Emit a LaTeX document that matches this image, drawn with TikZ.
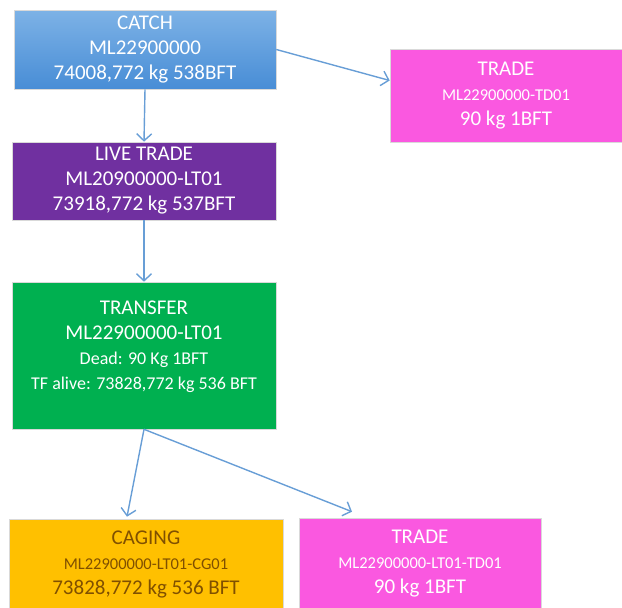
\documentclass[tikz,border=0pt]{standalone}
\usepackage{fontspec}
\setmainfont{Carlito}
\usetikzlibrary{arrows.meta}

\definecolor{catchtop}{RGB}{125,178,230}
\definecolor{catchbot}{RGB}{72,141,214}
\definecolor{livepurple}{RGB}{112,48,160}
\definecolor{transgreen}{RGB}{0,176,80}
\definecolor{tradepink}{RGB}{250,88,224}
\definecolor{cageorange}{RGB}{255,192,0}
\definecolor{cagetext}{RGB}{128,80,0}
\definecolor{arrowblue}{RGB}{104,158,214}

\newcommand{\idtext}[1]{{\fontsize{16.5}{20}\selectfont #1}}
\newcommand{\midtext}[1]{{\fontsize{18}{22}\selectfont #1}}

\begin{document}
\begin{tikzpicture}[x=1pt,y=-1pt,
  every node/.style={font=\fontsize{21}{25}\selectfont, align=center, text=white, inner sep=0pt},
  box/.style={draw=white!85!black, line width=0.6pt},
  flow/.style={draw=arrowblue, line width=1.4pt, -{Straight Barb[length=7pt,width=15pt]}}]
  \useasboundingbox (0,0) rectangle (622,608);

  % Top row: catch and first trade
  \node[box, top color=catchtop, bottom color=catchbot, minimum width=262pt, minimum height=79pt]
    (catch) at (145,49.5) {CATCH\\ML22900000\\74008,772 kg 538BFT};
  \node[box, fill=tradepink, minimum width=232pt, minimum height=93pt]
    (trade) at (506,95.5) {TRADE\\\idtext{ML22900000-TD01}\\90 kg 1BFT};

  % Live trade
  \node[box, fill=livepurple, minimum width=264pt, minimum height=78pt]
    (live) at (144,181) {LIVE TRADE\\ML20900000-LT01\\73918,772 kg 537BFT};

  % Transfer
  \node[box, fill=transgreen, minimum width=264pt, minimum height=147pt]
    (transfer) at (144,355.5) {};
  \node (transfertext) at (144,347) {TRANSFER\\ML22900000-LT01\\\midtext{Dead: 90 Kg 1BFT}\\\midtext{TF alive: 73828,772 kg 536 BFT}};

  % Bottom row: caging and second trade
  \node[box, fill=cageorange, text=cagetext, minimum width=274pt, minimum height=90pt]
    (caging) at (146,564) {CAGING\\\idtext{ML22900000-LT01-CG01}\\73828,772 kg 536 BFT};
  \node[box, fill=tradepink, minimum width=242pt, minimum height=92pt]
    (tradeb) at (420,564) {TRADE\\\idtext{ML22900000-LT01-TD01}\\90 kg 1BFT};

  % Arrows between the boxes
  \draw[flow] (catch.south) -- (live.north);
  \draw[flow] (catch.east) -- ([yshift=15pt]trade.west);
  \draw[flow] (live.south) -- (transfer.north);
  \draw[flow] (transfer.south) -- ([xshift=-19pt,yshift=2pt]caging.north);
  \draw[flow] (transfer.south) -- ([xshift=-68pt,yshift=6pt]tradeb.north);

\end{tikzpicture}
\end{document}
